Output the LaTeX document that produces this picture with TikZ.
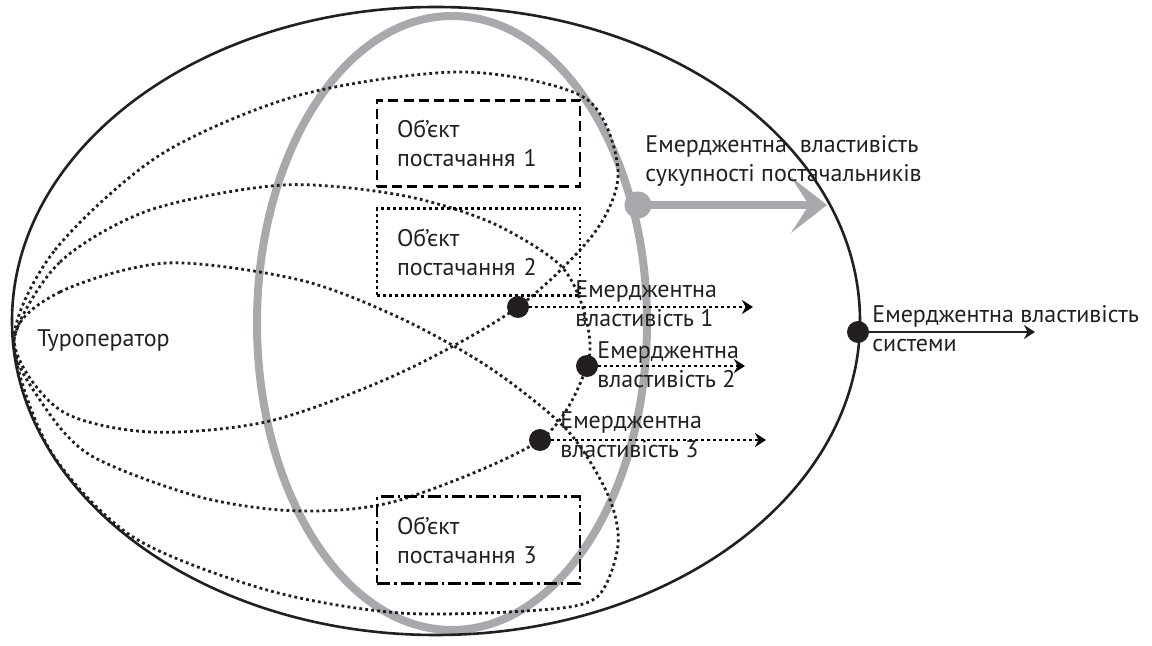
\documentclass[tikz,border=0pt]{standalone}
\usepackage{fontspec}
\setmainfont{PT Sans}
\usetikzlibrary{arrows.meta}

\definecolor{ringgray}{RGB}{167,169,172}
\definecolor{inkblack}{RGB}{35,31,32}

\tikzset{
	dotline/.style = {line width=1.4pt, dash pattern=on 1.4pt off 1.6pt},
	objbox/.style = {draw, line width=1.4pt, minimum width=101.5pt, minimum height=35.5pt,
		text width=81.5pt, inner sep=10pt, align=left},
	blob/.style = {circle, fill=inkblack, inner sep=0pt, minimum size=11pt},
	emtext/.style = {anchor=base west, inner sep=0pt, align=left}
}

\begin{document}
\begin{tikzpicture}[x = 0.5pt, y = -0.5pt, > = {Stealth[length=5.5pt, width=7pt]},
	font = \fontsize{12}{14.5}\selectfont, text = inkblack]

	% Definitions

	\def\W{1152}	% Width of the picture
	\def\H{646}		% Height of the picture
	\def\G{4pt}		% Width of the grey ring and its arrow

	\useasboundingbox (0, 0) rectangle (\W, \H);

	% Grey ring of the suppliers, with its emergent property

	\draw [ringgray, line width=\G] (452, 323) ellipse [x radius=195, y radius=307];
	\node [blob, fill=ringgray, minimum size=13.5pt] (ringdot) at (638, 205) {};
	\coordinate (ringtip) at (827, 205);
	\draw [ringgray, line width=\G, -{Stealth[length=18pt, width=28pt, inset=9pt]}]
		(ringdot.center) -- (ringtip);
	\node [emtext] (ringtext) at (645, 182) {Емерджентна\ \ властивість\\сукупності постачальників};

	% System boundary

	\draw [inkblack, line width=1.3pt] (436, 321) ellipse [x radius=424, y radius=314];

	% Loops from the tour operator, one for each supplier object

	\begin{scope}[dotline, inkblack]

		\draw plot [smooth cycle] coordinates {(14, 340) (55, 250) (160, 155) (300, 95) (463, 72)
			(585, 98) (618, 170) (595, 232) (518, 307) (400, 373) (270, 421) (150, 432) (60, 410)};
		\draw plot [smooth cycle] coordinates {(14, 340) (60, 262) (150, 210) (283, 185) (400, 195)
			(490, 222) (560, 265) (585, 315) (587, 366) (540, 440) (400, 500) (300, 511) (200, 497)
			(90, 455) (40, 400)};
		\draw plot [smooth cycle] coordinates {(14, 340) (60, 292) (167, 263) (300, 280) (400, 318)
			(490, 368) (567, 430) (608, 495) (618, 545) (597, 597) (540, 610) (400, 613) (267, 590)
			(133, 537) (50, 450)};

	\end{scope}

	\node [emtext] (tour) at (37, 347) {Туроператор};

	% Supplier objects

	\node [objbox, dash pattern=on 5pt off 2.6pt] (obj1) at (478.5, 143.5) {Об’єкт\\постачання 1};
	\node [objbox, dotline] (obj2) at (478.5, 252) {Об’єкт\\постачання 2};
	\node [objbox, dash pattern=on 6.5pt off 2pt on 1.4pt off 2pt] (obj3) at (478.5, 540) {Об’єкт\\постачання 3};

	% Emergent properties of the single suppliers

	\node [blob] (em1dot) at (518, 307) {};
	\node [blob] (em2dot) at (587, 366) {};
	\node [blob] (em3dot) at (540, 440) {};

	\coordinate (em1tip) at (753, 307);
	\coordinate (em2tip) at (745, 366);
	\coordinate (em3tip) at (766, 440);

	\begin{scope}[dotline, ->]
		\draw (em1dot) -- (em1tip);
		\draw (em2dot) -- (em2tip);
		\draw (em3dot) -- (em3tip);
	\end{scope}

	\node [emtext] (em1) at (575, 327) {Емерджентна\\властивість 1};
	\node [emtext] (em2) at (597, 388) {Емерджентна\\властивість 2};
	\node [emtext] (em3) at (560, 458) {Емерджентна\\властивість 3};

	% Emergent property of the system

	\node [blob] (sysdot) at (858, 332) {};
	\coordinate (systip) at (1035, 332);
	\draw [inkblack, line width=1.3pt, ->] (sysdot) -- (systip);
	\node [emtext] (sys) at (872, 352) {Емерджентна властивість\\системи};

\end{tikzpicture}
\end{document}
